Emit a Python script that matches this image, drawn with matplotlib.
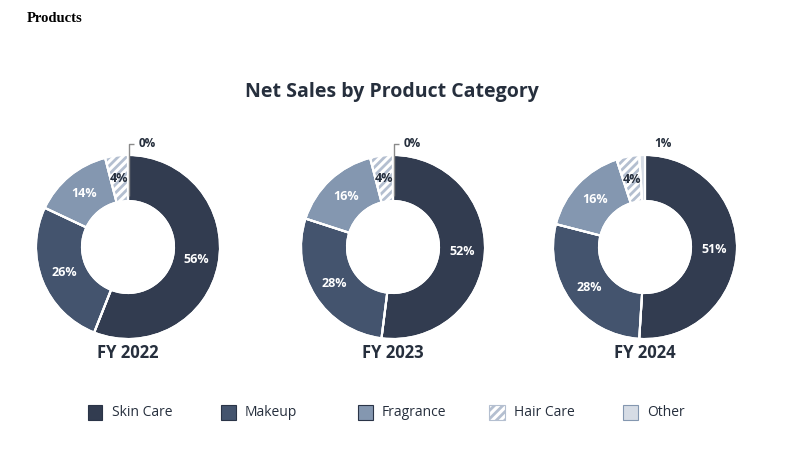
import matplotlib
matplotlib.use("Agg")
import matplotlib.pyplot as plt
from matplotlib.patches import Rectangle
import numpy as np

categories = ["Skin Care", "Makeup", "Fragrance", "Hair Care", "Other"]
years = ["FY 2022", "FY 2023", "FY 2024"]
values = {
    "FY 2022": [56, 26, 14, 4, 0],
    "FY 2023": [52, 28, 16, 4, 0],
    "FY 2024": [51, 28, 16, 4, 1],
}

colors = ["#323c50", "#44546e", "#8497b0", "#ffffff", "#d6dce5"]
hatch_color = "#b4bfd0"
text_dark = "#262f3d"

plt.rcParams["hatch.linewidth"] = 2.0

W, H = 800, 450
fig = plt.figure(figsize=(8, 4.5), dpi=100)
fig.patch.set_facecolor("white")

fig.text(27 / W, 1 - 18 / H, "Products", family="Liberation Serif", weight="bold",
         fontsize=10.5, ha="left", va="center", color="black")
fig.text(392 / W, 1 - 92 / H, "Net Sales by Product Category", family="Open Sans",
         weight="bold", fontsize=14, ha="center", va="center", color=text_dark)

centers = [(128, 247), (393, 247), (645, 247)]
R = 92
scale = 1.35
half = R * scale
ring_w = 0.5

for (cx, cy), yr in zip(centers, years):
    ax = fig.add_axes([(cx - half) / W, (H - cy - half) / H, 2 * half / W, 2 * half / H])
    vals = values[yr]
    wedges, _ = ax.pie(vals, colors=colors, startangle=90, counterclock=False, radius=1,
                       wedgeprops=dict(width=ring_w, edgecolor="white", linewidth=1.5))
    hw = wedges[3]
    hw.set_hatch("////")
    hw.set_edgecolor(hatch_color)
    hw.set_linewidth(0)
    ax.pie(vals, colors=["none"] * 5, startangle=90, counterclock=False, radius=1,
           wedgeprops=dict(width=ring_w, edgecolor="white", linewidth=1.5, fill=False))
    ax.set_xlim(-scale, scale)
    ax.set_ylim(-scale, scale)
    ax.set_aspect("equal")
    ax.axis("off")

    total = sum(vals)
    cum = 0
    rmid = 1 - ring_w / 2
    for i, v in enumerate(vals):
        mid = 90 - (cum + v / 2) / total * 360
        cum += v
        a = np.deg2rad(mid)
        if i == 4:
            if v == 0:
                ax.plot([0.012, 0.012, 0.07], [1 - ring_w + 0.05, 1.12, 1.12],
                        color="#8a8a8a", lw=1, solid_capstyle="butt")
                ax.text(0.12, 1.12, f"{v}%", ha="left", va="center", fontsize=8.5,
                        weight="bold", family="Open Sans", color=text_dark)
            else:
                ax.text(0.2, 1.12, f"{v}%", ha="center", va="center", fontsize=8.5,
                        weight="bold", family="Open Sans", color=text_dark)
            continue
        col = text_dark if i == 3 else "white"
        ax.text(rmid * np.cos(a), rmid * np.sin(a), f"{v}%", ha="center", va="center",
                fontsize=9, weight="bold", family="Open Sans", color=col)
    fig.text(cx / W, 1 - 353 / H, yr, ha="center", va="center", fontsize=12,
             weight="bold", family="Open Sans", color=text_dark)

# legend
leg_x = [95, 228, 365, 497, 630]
leg_y = 412
sq = 15
for i, (lx, name) in enumerate(zip(leg_x, categories)):
    fc = colors[i]
    rect = Rectangle(((lx - sq / 2) / W, (H - leg_y - sq / 2) / H), sq / W, sq / H,
                     transform=fig.transFigure, facecolor=fc,
                     edgecolor=hatch_color if i == 3 else ("#8497b0" if i == 4 else "#2a3447"),
                     linewidth=0.8, hatch="////" if i == 3 else None)
    fig.patches.append(rect)
    fig.text((lx + 17) / W, 1 - leg_y / H, name, ha="left", va="center", fontsize=10,
             family="Open Sans", color=text_dark)

fig.savefig("out.png", dpi=100, facecolor="white")
